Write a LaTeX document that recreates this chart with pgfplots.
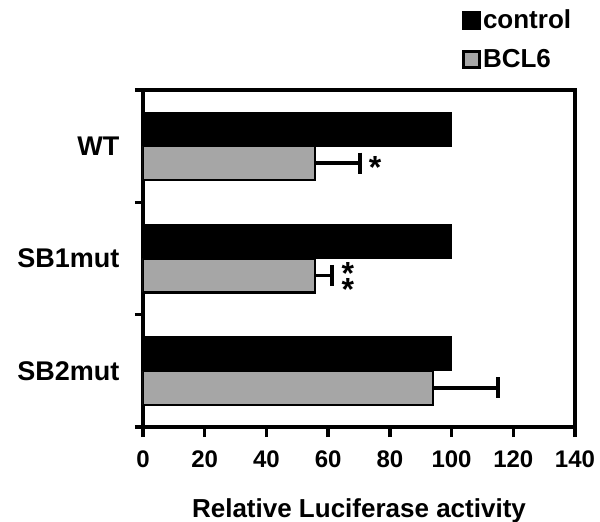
\documentclass[border=0pt]{standalone}
\usepackage{fontspec}
\setmainfont{Liberation Sans}
\usepackage{pgfplots}
\pgfplotsset{compat=1.18}
\definecolor{bargray}{RGB}{166,166,166}
\begin{document}
\begin{tikzpicture}
\begin{axis}[
  at={(0pt,0pt)}, anchor=south west,
  scale only axis, width=432pt, height=337pt,
  y dir=reverse,
  xmin=0, xmax=140, ymin=-0.5, ymax=2.5,
  xtick={0,20,...,140},
  xticklabels={0,20,40,60,80,100,120,140},
  ytick={0,1,2}, yticklabels={WT,SB1mut,SB2mut},
  minor ytick={-0.5,0.5,1.5,2.5},
  major tick length=10pt, minor tick length=8pt,
  major y tick style={draw=none},
  tick align=outside, xtick pos=lower, ytick pos=left,
  axis line style={line width=3.5pt},
  tick style={line width=3.5pt, black},
  bar width=0.303,
  xticklabel style={font=\bfseries\fontsize{24}{24}\selectfont, yshift=-10pt},
  yticklabel style={font=\bfseries\fontsize{27}{27}\selectfont, xshift=-10pt},
  xlabel={Relative Luciferase activity},
  xlabel style={font=\bfseries\fontsize{26}{26}\selectfont, yshift=-24pt},
  legend style={at={(axis description cs:0.738,1.245)}, anchor=north west,
    draw=none, fill=none, inner sep=0pt, row sep=14pt,
    nodes={inner sep=2.5pt, font=\bfseries\fontsize{26}{26}\selectfont}},
  legend cell align=left,
  legend image code/.code={\draw[#1, line width=2.5pt] (0pt,-8pt) rectangle (16pt,8pt);},
  errline/.style={forget plot, black, line width=3.5pt, mark=|, mark size=10.5pt,
    mark repeat=2, mark phase=2, mark options={line width=3.5pt, black, solid}},
]
\addplot[xbar, fill=black, draw=black, line width=1pt, bar shift=-0.151]
  coordinates {(100,0) (100,1) (100,2)};
\addlegendentry{control}
\addplot[xbar, fill=bargray, draw=black, line width=2.5pt, bar shift=0.151]
  coordinates {(55.7,0) (55.7,1) (94,2)};
\addlegendentry{BCL6}
% one-sided (+) error bars of the BCL6 series, at the centres of the BCL6 bars
\addplot[errline] coordinates {(55.7,0.151) (70.3,0.151)};
\addplot[errline] coordinates {(55.7,1.151) (61.2,1.151)};
\addplot[errline] coordinates {(94,2.151) (115,2.151)};
\node[font=\bfseries\fontsize{32}{32}\selectfont] at (axis cs:75.2,0.19) {*};
\node[font=\bfseries\fontsize{32}{32}\selectfont] at (axis cs:66.4,1.13) {*};
\node[font=\bfseries\fontsize{32}{32}\selectfont] at (axis cs:66.4,1.28) {*};
\end{axis}
\pgfresetboundingbox
\path (-143pt,-95pt) rectangle (457pt,427pt);
\end{tikzpicture}
\end{document}
